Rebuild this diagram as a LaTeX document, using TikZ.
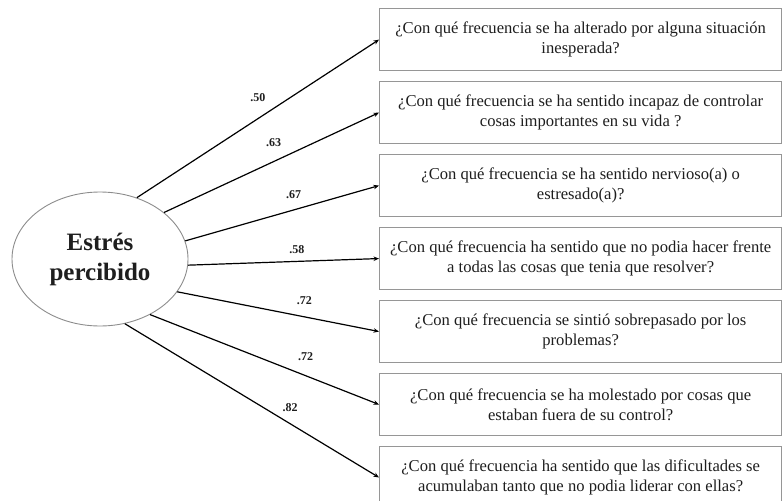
\documentclass[tikz,border=0pt]{standalone}
\usepackage{fontspec}
\setmainfont{Liberation Serif}
\usetikzlibrary{shapes.geometric, arrows.meta, positioning}
\definecolor{boxgray}{RGB}{150, 150, 150}
\definecolor{ringgray}{RGB}{140, 140, 140}
\definecolor{inkgray}{RGB}{30, 30, 30}

\tikzset{
  latent/.style={ellipse, draw=ringgray, line width=0.9pt, minimum width=176pt, minimum height=134pt, inner sep=0pt, align=center, text=inkgray, font=\fontsize{25}{30}\selectfont\bfseries},
  item/.style={rectangle, draw=boxgray, line width=1.3pt, minimum width=402pt, minimum height=62pt, inner sep=0pt, align=center, text=inkgray, font=\fontsize{16.6}{20}\selectfont},
  load/.style={line width=1.2pt, -{Stealth[length=5.5pt, width=4.5pt]}},
  coef/.style={inner sep=0pt, text=inkgray, font=\fontsize{12}{12}\selectfont\bfseries}
}

\begin{document}
\begin{tikzpicture}[x=1pt, y=-1pt]
  \useasboundingbox (0,0) rectangle (783,500);

  \node[latent] (stress) at (100,259) {Estrés\\percibido};

  % indicadores
  \node[item, anchor=north west] (q1) at (379,8) {¿Con qué frecuencia se ha alterado por alguna situación\\inesperada?};
  \node[item, below=9.67pt of q1] (q2) {¿Con qué frecuencia se ha sentido incapaz de controlar\\cosas importantes en su vida ?};
  \node[item, below=9.67pt of q2] (q3) {¿Con qué frecuencia se ha sentido nervioso(a) o\\estresado(a)?};
  \node[item, below=9.67pt of q3] (q4) {¿Con qué frecuencia ha sentido que no podia hacer frente\\a todas las cosas que tenia que resolver?};
  \node[item, below=9.67pt of q4] (q5) {¿Con qué frecuencia se sintió sobrepasado por los\\problemas?};
  \node[item, below=9.67pt of q5] (q6) {¿Con qué frecuencia se ha molestado por cosas que\\estaban fuera de su control?};
  \node[item, below=9.67pt of q6] (q7) {¿Con qué frecuencia ha sentido que las dificultades se\\acumulaban tanto que no podia liderar con ellas?};

  % cargas factoriales
  \foreach \ang/\q/\val/\p/\up in {59/q1/.50/0.50/16, 36/q2/.63/0.51/14, 12/q3/.67/0.56/11, -4/q4/.58/0.57/7,
                                  -23/q5/.72/0.63/12, -48/q6/.72/0.68/14, -69/q7/.82/0.65/11}
    \draw[load] (stress.\ang) -- (\q.west) node[coef, pos=\p, above=\up pt] {\val};
\end{tikzpicture}
\end{document}
